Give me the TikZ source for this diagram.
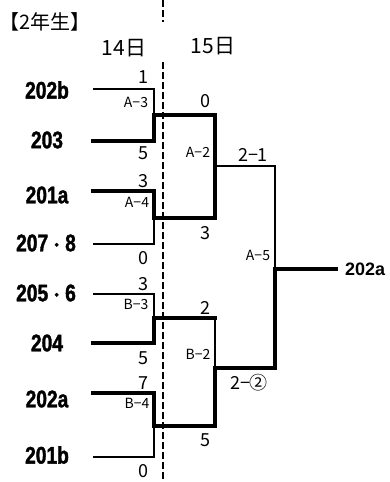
\documentclass[tikz,border=0pt]{standalone}
\usepackage{fontspec}
\setmainfont{Liberation Sans}
\newfontfamily\cjk{Noto Sans CJK JP}
\newfontfamily\teamfont[FakeStretch=0.8, FakeBold=1.5]{Liberation Sans Bold}
\newfontfamily\dotfont[FakeBold=2]{Noto Sans CJK JP}
\usetikzlibrary{positioning}

\begin{document}
\begin{tikzpicture}[x=1pt, y=-1pt,
  team/.style={font=\teamfont\fontsize{24}{24}\selectfont, inner sep=0pt},
  champ/.style={font=\bfseries\fontsize{18}{18}\selectfont, inner sep=0pt},
  head/.style={font=\cjk\fontsize{20}{20}\selectfont, inner sep=0pt},
  day/.style={font=\cjk\fontsize{21}{21}\selectfont, inner sep=0pt},
  score/.style={font=\cjk\fontsize{18}{18}\selectfont, inner sep=0pt},
  game/.style={font=\cjk\fontsize{14}{14}\selectfont, inner sep=0pt},
  win/.style={line width=4pt, line cap=rect},
  lose/.style={line width=1.5pt},
  divider/.style={line width=2pt, dash pattern=on 7pt off 3pt}
]
  \useasboundingbox (0,0) rectangle (390,482);

  % headings
  \node[head] (grade) at (45,22) {【2年生】};
  \node[day] (d14) at (124,48) {14日};
  \node[day] (d15) at (213,46) {15日};
  \coordinate (v0) at (163,0);
  \coordinate (v1) at (163,22);
  \coordinate (v2) at (163,62);
  \coordinate (v3) at (163,482);
  \draw[divider] (v0) -- (v1);
  \draw[divider] (v2) -- (v3);

  % teams
  \node[team] (n202b) at (47,90) {202b};
  \node[team] (n203)  at (47,140) {203};
  \node[team] (n201a) at (47,195) {201a};
  \node[team] (n2078) at (46,243) {207{\dotfont\fontsize{17}{17}\selectfont ・}8};
  \node[team] (n2056) at (46,293) {205{\dotfont\fontsize{17}{17}\selectfont ・}6};
  \node[team] (n204)  at (47,343) {204};
  \node[team] (n202a) at (47,399) {202a};
  \node[team] (n201b) at (47,455) {201b};

  \coordinate (t202b) at (93,89);
  \coordinate (t203)  at (93,141);
  \coordinate (t201a) at (93,191);
  \coordinate (t2078) at (93,244);
  \coordinate (t2056) at (93,294);
  \coordinate (t204)  at (93,343);
  \coordinate (t202a) at (93,393);
  \coordinate (t201b) at (93,457);

  % junctions
  \coordinate (r1a) at (154,115);
  \coordinate (r1b) at (154,218);
  \coordinate (r1c) at (154,318);
  \coordinate (r1d) at (154,426);
  \coordinate (q1) at (215,115);
  \coordinate (q2) at (215,218);
  \coordinate (qa) at (215,166);
  \coordinate (q3) at (215,318);
  \coordinate (q4) at (215,426);
  \coordinate (qb) at (215,368);
  \coordinate (fm) at (275,269);
  \coordinate (fout) at (336,269);
  \node[champ, right=9pt of fout] (win) {202a};

  % bracket
  \draw[lose] (t202b) -| (r1a);
  \draw[lose] (t2078) -| (r1b);
  \draw[win] (t203) -| (r1a) -- (q1) -- (q2) -- (r1b) |- (t201a);
  \draw[lose] (t2056) -| (r1c);
  \draw[win] (t204) -| (r1c) -- (q3);
  \draw[lose] (t201b) -| (r1d);
  \draw[lose] (q3) -- (qb);
  \draw[lose] (qa) -| (fm);
  \draw[win] (t202a) -| (r1d) -- (q4) -- (qb) -| (fm) -- (fout);

  % scores
  \node[score] (s1) at (143,77) {1};
  \node[score] (s2) at (143,153) {5};
  \node[score] (s3) at (143,181) {3};
  \node[score] (s4) at (143,258) {0};
  \node[score] (s5) at (143,284) {3};
  \node[score] (s6) at (143,358) {5};
  \node[score] (s7) at (143,383) {7};
  \node[score] (s8) at (143,471) {0};
  \node[score] (s9) at (205,101) {0};
  \node[score] (s10) at (205,233) {3};
  \node[score] (s11) at (205,308) {2};
  \node[score] (s12) at (205,440) {5};
  \node[score] (s13) at (253,155) {2−1};
  \node[score] (s14) at (249,383) {2−②};

  % game numbers
  \node[game] (g1) at (136,102) {A−3};
  \node[game] (g2) at (137,202) {A−4};
  \node[game] (g3) at (136,304) {B−3};
  \node[game] (g4) at (137,403) {B−4};
  \node[game] (g5) at (198,152) {A−2};
  \node[game] (g6) at (198,354) {B−2};
  \node[game] (g7) at (258,255) {A−5};
\end{tikzpicture}
\end{document}
